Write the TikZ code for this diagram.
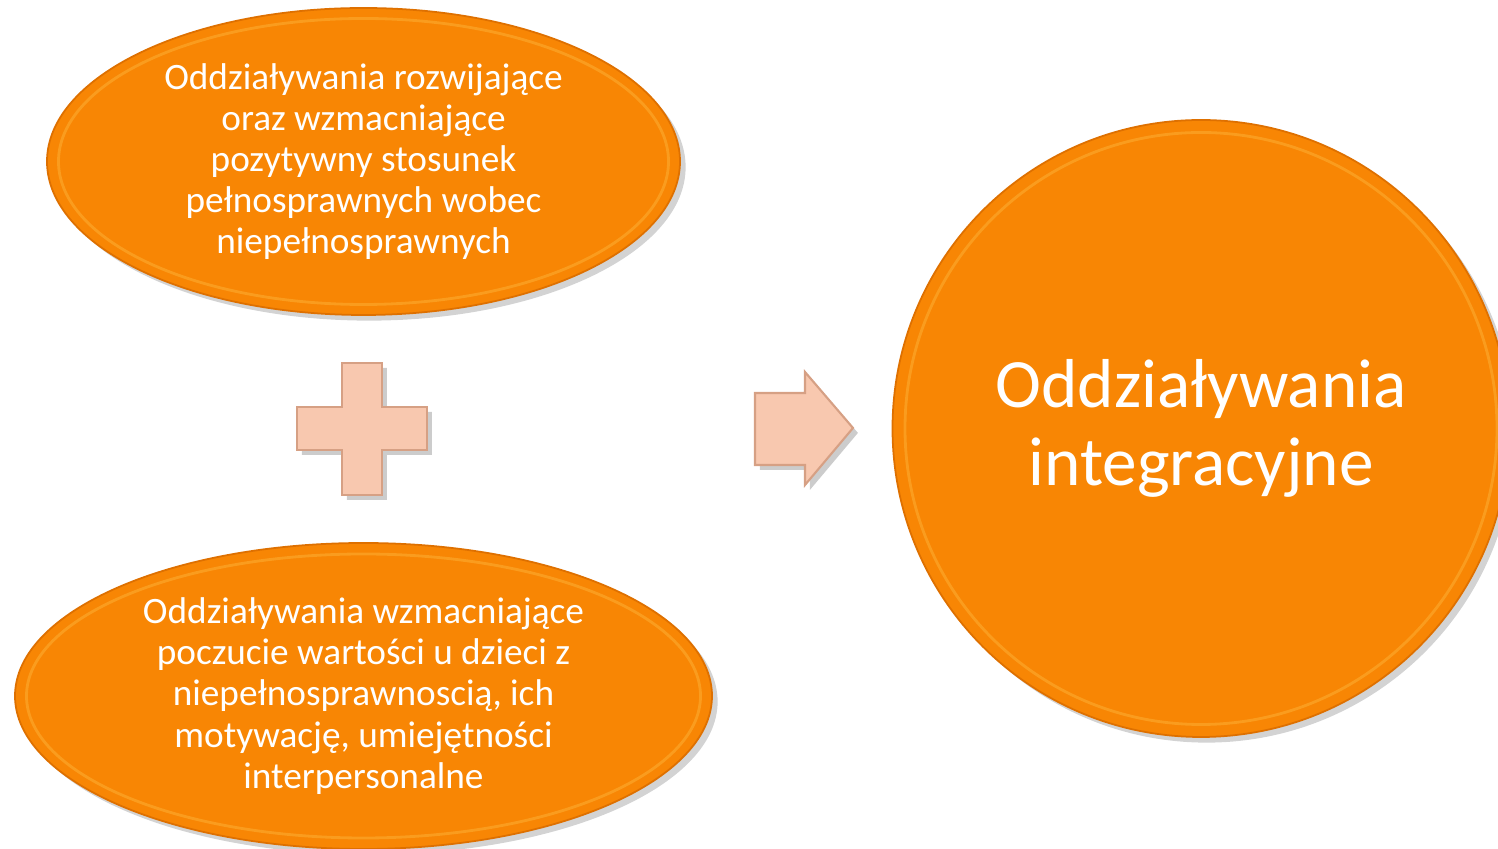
\documentclass[tikz,border=0pt]{standalone}
\usepackage{fontspec}
\setmainfont{Carlito}
\usepackage{xcolor}
\usepackage{tikz}
\usetikzlibrary{shapes,shadows,positioning,calc}
\definecolor{orng}{RGB}{248,134,4}
\definecolor{orngdark}{RGB}{222,112,0}
\definecolor{orngrim}{RGB}{255,190,70}
\definecolor{peach}{RGB}{248,200,175}
\definecolor{peachdark}{RGB}{214,160,132}

\begin{document}
\begin{tikzpicture}[
blob/.style={
  ellipse,
  fill=orng,
  draw=orngdark,
  line width=0.5pt,
  inner sep=0pt,
  align=center,
  text=white,
  font=\fontsize{10.6}{11.7}\selectfont,
  drop shadow={opacity=0.35,shadow xshift=1.6pt,shadow yshift=-1.6pt}
},
big/.style={
  blob,
  circle,
  minimum size=6.17cm,
  font=\fontsize{19.7}{22.2}\selectfont
},
rim/.style={
  draw=orngrim,
  line width=0.8pt,
  opacity=0.4
},
sign/.style={
  fill=peach,
  draw=peachdark,
  line width=0.6pt,
  line join=miter,
  drop shadow={opacity=0.4,shadow xshift=1.4pt,shadow yshift=-1.4pt}
}
]
\useasboundingbox (0,0) rectangle (14.98,8.49);
\clip (0,0) rectangle (14.98,8.49);

% two inputs on the left
\node[blob,minimum width=6.33cm,minimum height=3.07cm] at (3.635,6.875)
  (pos) {Oddziaływania rozwijające\\oraz wzmacniające\\pozytywny stosunek\\pełnosprawnych wobec\\niepełnosprawnych};
\node[blob,minimum width=6.97cm,minimum height=3.06cm] at (3.635,1.53)
  (self) {Oddziaływania wzmacniające\\poczucie wartości u dzieci z\\niepełnosprawnoscią, ich\\motywację, umiejętności\\interpersonalne};

% result
\node[big] at (12.01,4.205)
  (integ) {Oddziaływania\\integracyjne};

% light rims
\draw[rim] (pos.center) ellipse [x radius=3.05cm,y radius=1.43cm];
\draw[rim] (self.center) ellipse [x radius=3.37cm,y radius=1.42cm];
\draw[rim] (integ.center) circle [radius=2.96cm];

% plus sign
\draw[sign] (3.42,4.86) -- (3.82,4.86) -- (3.82,4.42) -- (4.27,4.42)
  -- (4.27,3.99) -- (3.82,3.99) -- (3.82,3.54) -- (3.42,3.54)
  -- (3.42,3.99) -- (2.97,3.99) -- (2.97,4.42) -- (3.42,4.42) -- cycle;

% arrow
\draw[sign] (7.55,4.56) -- (8.05,4.56) -- (8.05,4.77) -- (8.53,4.21)
  -- (8.05,3.64) -- (8.05,3.84) -- (7.55,3.84) -- cycle;
\end{tikzpicture}
\end{document}
